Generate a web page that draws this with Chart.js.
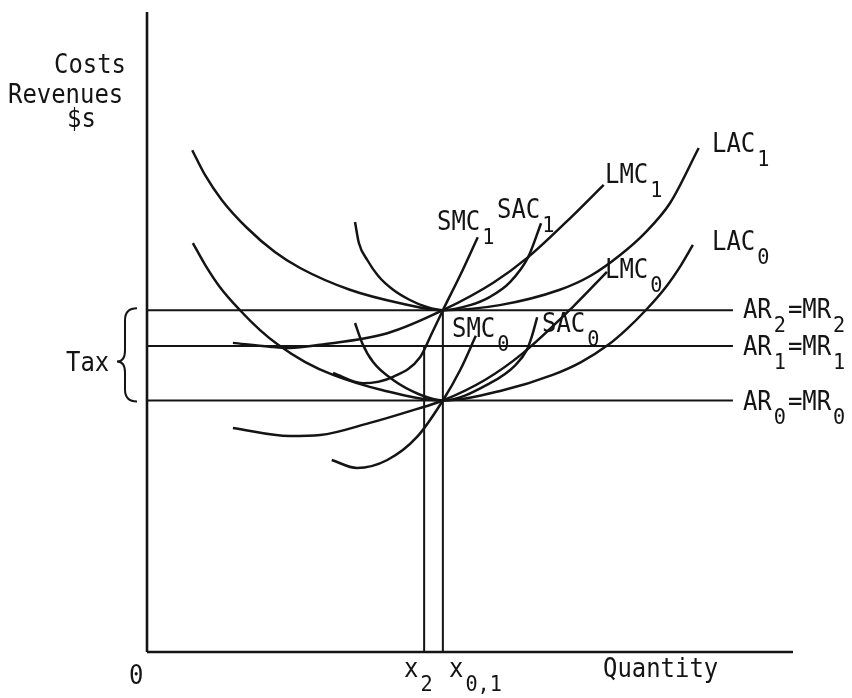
<!DOCTYPE html>
<html>
<head>
<meta charset="utf-8">
<script src="https://cdn.jsdelivr.net/npm/chart.js@4/dist/chart.umd.min.js"></script>
<style>
  html, body { margin: 0; padding: 0; background: #fff; }
  canvas { display: block; }
</style>
</head>
<body>
<canvas id="chart" width="852" height="698"></canvas>
<script>
// ── DATA (x = quantity, y = costs / revenues, both 0..100) ───────────────────

const AR0 = 39.3, AR1 = 47.8, AR2 = 53.4;      // price lines
const X2 = 42.9, X01 = 45.8;                    // output levels
const LINE_END = 90.7;                          // right end of the price lines

const lac1X = [7.0, 9.0, 11.6, 15.5, 19.8, 23.7, 31.4, 39.2, 45.8, 54.6, 63.9, 68.6, 73.2, 77.1, 81.0, 85.4];
const lac1Y = [78.4, 74.5, 70.6, 66.25, 62.5, 60.0, 56.6, 54.5, 53.4, 54.2, 56.6, 58.75, 62.0, 65.5, 70.2, 78.75];

const lac0X = [7.1, 9.0, 11.3, 14.4, 17.5, 20.3, 24.5, 28.8, 36.5, 45.8, 55.1, 62.8, 67.2, 71.4, 74.1, 77.2, 80.3, 82.7, 84.5];
const lac0Y = [63.9, 60.5, 57.0, 53.4, 50.3, 48.0, 45.3, 43.3, 40.9, 39.3, 40.9, 43.3, 45.3, 48.0, 50.3, 53.4, 57.0, 60.5, 63.6];

const lmc1X = [13.3, 19.0, 22.1, 26.8, 37.2, 45.8, 53.6, 59.0, 64.9, 70.7];
const lmc1Y = [48.3, 47.7, 47.5, 48.0, 49.8, 53.4, 57.7, 61.7, 67.2, 73.0];

const lmc0X = [13.3, 22.1, 26.8, 34.5, 41.2, 45.8, 52.3, 58.2, 65.9, 71.2];
const lmc0Y = [35.0, 33.75, 33.9, 35.8, 37.8, 39.3, 42.5, 46.7, 53.9, 59.4];

const sac1X = [32.2, 32.8, 34.1, 35.8, 38.1, 40.7, 43.3, 45.8, 50.0, 53.1, 56.2, 59.0, 61.0];
const sac1Y = [67.2, 63.9, 61.25, 58.75, 56.6, 55.0, 53.9, 53.4, 54.2, 55.5, 57.8, 61.7, 67.0];

const sac0X = [32.2, 33.3, 35.0, 38.1, 42.3, 45.8, 53.1, 57.0, 58.8, 59.6, 60.4];
const sac0Y = [51.4, 48.3, 45.3, 42.5, 40.2, 39.3, 42.0, 44.8, 47.2, 49.4, 52.3];

const smc1X = [28.8, 33.4, 38.1, 42.3, 44.1, 45.8, 48.5, 51.2];
const smc1Y = [43.6, 42.0, 43.0, 46.1, 49.8, 53.4, 58.9, 64.8];

const smc0X = [28.6, 32.5, 37.2, 41.8, 45.8, 48.5, 50.9];
const smc0Y = [30.0, 28.75, 30.0, 33.6, 39.3, 44.1, 49.4];

// ── HELPERS ───────────────────────────────────────────────────────────────────

const INK = '#141414';
const FONT = '"DejaVu Sans Mono", monospace';

function pts(xs, ys) { return xs.map((x, i) => ({ x, y: ys[i] })); }

function curve(xs, ys) {
  return { data: pts(xs, ys), showLine: true, pointRadius: 0, borderColor: INK, borderWidth: 2.5,
           cubicInterpolationMode: 'monotone', clip: false };
}

function straight(data, w) {
  return { data, showLine: true, pointRadius: 0, borderColor: INK, borderWidth: w || 2, tension: 0, clip: false };
}

// text drawn slightly condensed to look like the typewriter face
function drawParts(ctx, x, y, parts) {
  let cx = x;
  parts.forEach(([t, sub]) => {
    const size = sub ? 22 : 26;
    const yy = sub ? y + 14 : y;
    ctx.font = size + 'px ' + FONT;
    ctx.save();
    ctx.translate(cx, yy);
    ctx.scale(0.92, 1);
    ctx.fillText(t, 0, 0);
    ctx.restore();
    cx += ctx.measureText(t).width * 0.92 + 2;
  });
}

const LABELS = [
  { x: 54,  y: 73,  parts: [['Costs']] },
  { x: 8,   y: 103, parts: [['Revenues']] },
  { x: 67,  y: 127, parts: [['$s']] },
  { x: 66,  y: 371, parts: [['Tax']] },
  { x: 129, y: 684, parts: [['0']] },
  { x: 404, y: 677, parts: [['x'], ['2', 1]] },
  { x: 449, y: 677, parts: [['x'], ['0,1', 1]] },
  { x: 603, y: 677, parts: [['Quantity']] },
  { x: 712, y: 152, parts: [['LAC'], ['1', 1]] },
  { x: 605, y: 183, parts: [['LMC'], ['1', 1]] },
  { x: 437, y: 230, parts: [['SMC'], ['1', 1]] },
  { x: 497, y: 218, parts: [['SAC'], ['1', 1]] },
  { x: 712, y: 250, parts: [['LAC'], ['0', 1]] },
  { x: 605, y: 278, parts: [['LMC'], ['0', 1]] },
  { x: 452, y: 337, parts: [['SMC'], ['0', 1]] },
  { x: 542, y: 332, parts: [['SAC'], ['0', 1]] },
];

const PRICE_LABELS = [
  { v: AR2, parts: [['AR'], ['2', 1], ['=MR'], ['2', 1]], dy: 8 },
  { v: AR1, parts: [['AR'], ['1', 1], ['=MR'], ['1', 1]], dy: 9 },
  { v: AR0, parts: [['AR'], ['0', 1], ['=MR'], ['0', 1]], dy: 10 },
];

const textPlugin = {
  id: 'texts',
  afterDraw(chart) {
    const ctx = chart.ctx;
    const xs = chart.scales.x, ys = chart.scales.y;
    ctx.save();
    ctx.fillStyle = INK;
    ctx.textBaseline = 'alphabetic';
    LABELS.forEach(l => drawParts(ctx, l.x, l.y, l.parts));
    const lx = xs.getPixelForValue(LINE_END) + 10;
    PRICE_LABELS.forEach(l => drawParts(ctx, lx, ys.getPixelForValue(l.v) + l.dy, l.parts));

    // brace marking the tax between AR0 and AR2
    const top = ys.getPixelForValue(AR2) - 2, bot = ys.getPixelForValue(AR0) + 1;
    const mid = top + (bot - top) * 0.57;
    const xr = 137, xv = 125, xt = 117;
    ctx.strokeStyle = INK;
    ctx.lineWidth = 2;
    ctx.beginPath();
    ctx.moveTo(xr, top);
    ctx.quadraticCurveTo(xv, top, xv, top + 12);
    ctx.lineTo(xv, mid - 11);
    ctx.quadraticCurveTo(xv, mid, xt, mid);
    ctx.quadraticCurveTo(xv, mid, xv, mid + 11);
    ctx.lineTo(xv, bot - 12);
    ctx.quadraticCurveTo(xv, bot, xr, bot);
    ctx.stroke();
    ctx.restore();
  }
};

// ── CHART ─────────────────────────────────────────────────────────────────────

new Chart(document.getElementById('chart'), {
  type: 'scatter',
  data: {
    datasets: [
      straight([{ x: 0, y: 0 }, { x: 0, y: 100 }], 2.6),
      straight([{ x: 0, y: 0 }, { x: 100, y: 0 }], 2.6),
      straight([{ x: 0, y: AR2 }, { x: LINE_END, y: AR2 }]),
      straight([{ x: 0, y: AR1 }, { x: LINE_END, y: AR1 }]),
      straight([{ x: 0, y: AR0 }, { x: LINE_END, y: AR0 }]),
      straight([{ x: X2, y: 0 }, { x: X2, y: AR1 }]),
      straight([{ x: X01, y: 0 }, { x: X01, y: AR2 }]),
      curve(lac1X, lac1Y),
      curve(lac0X, lac0Y),
      curve(lmc1X, lmc1Y),
      curve(lmc0X, lmc0Y),
      curve(sac1X, sac1Y),
      curve(sac0X, sac0Y),
      curve(smc1X, smc1Y),
      curve(smc0X, smc0Y),
    ]
  },
  options: {
    responsive: false,
    animation: false,
    devicePixelRatio: 1,
    layout: { padding: { left: 147, right: 59, top: 12, bottom: 46 } },
    scales: {
      x: { type: 'linear', min: 0, max: 100, display: false },
      y: { type: 'linear', min: 0, max: 100, display: false }
    },
    plugins: { legend: { display: false }, tooltip: { enabled: false } }
  },
  plugins: [textPlugin]
});
</script>
</body>
</html>
